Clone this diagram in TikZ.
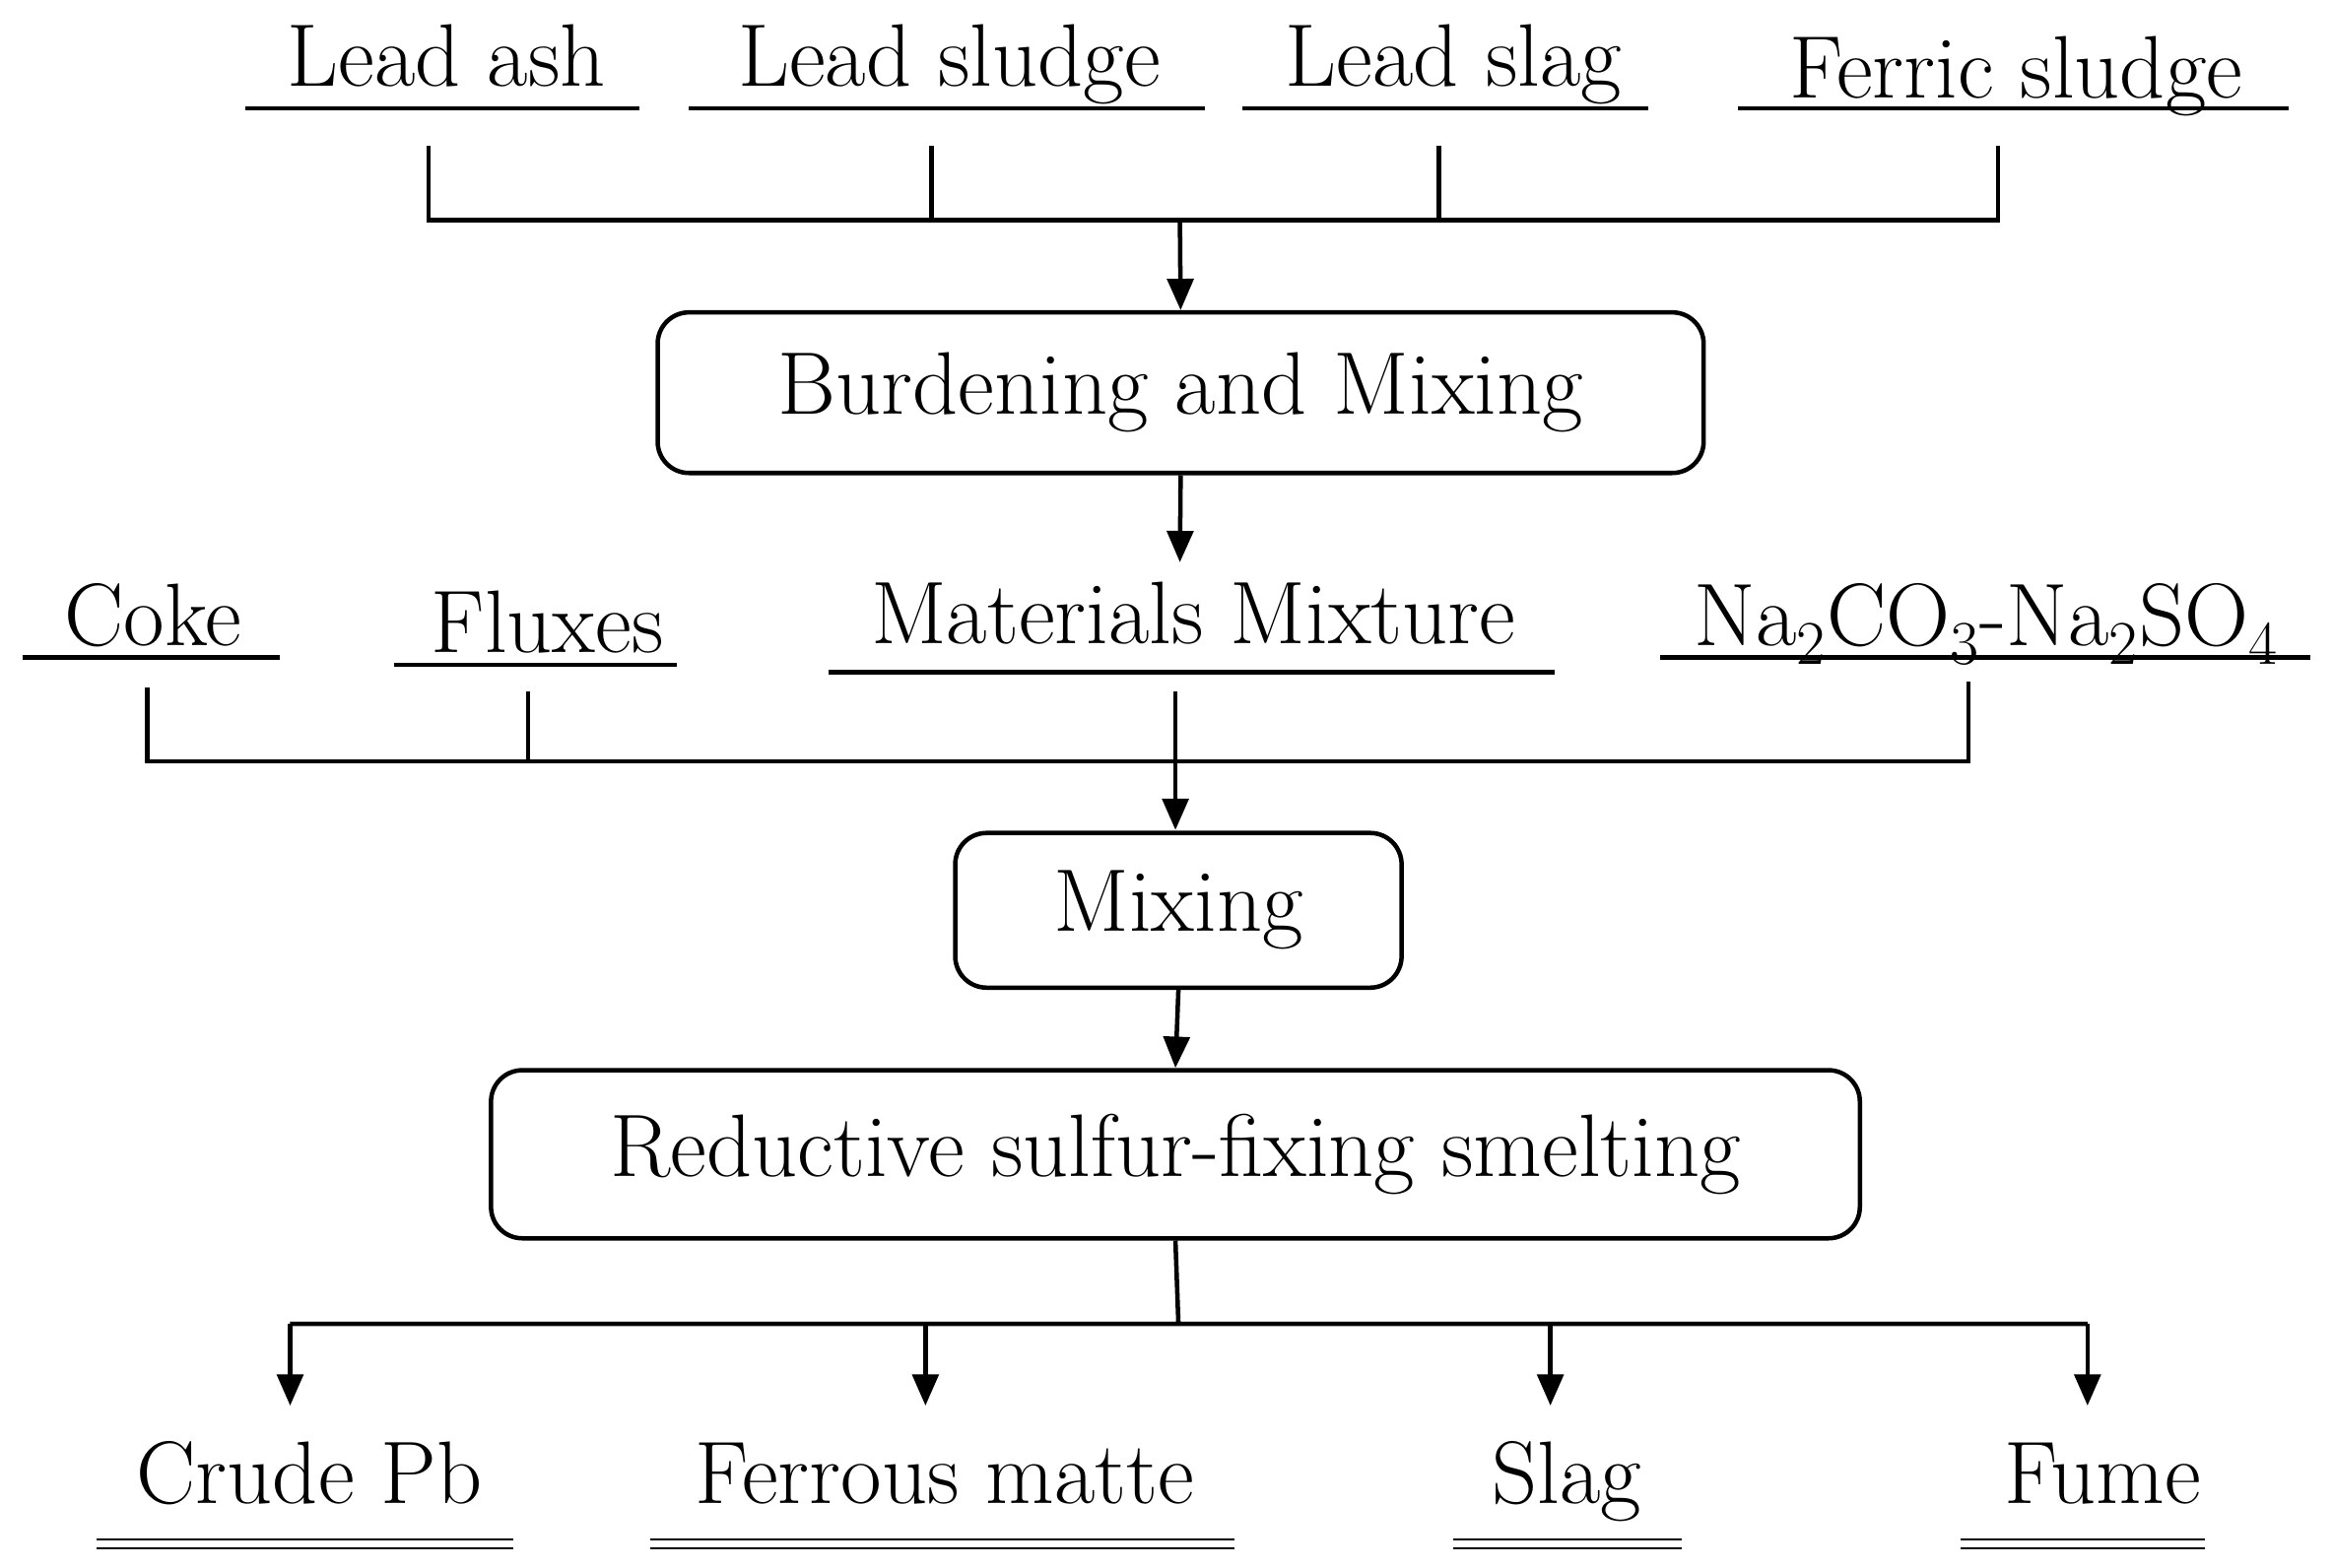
\documentclass[tikz,border=0pt]{standalone}
\usetikzlibrary{arrows.meta}
\begin{document}
\begin{tikzpicture}[x=0.02cm,y=-0.02cm,
  ln/.style={line width=1.7pt},
  ar/.style={ln,-{Triangle[length=12pt,width=10pt]}},
  lbl/.style={font=\fontsize{34}{40}\selectfont,inner sep=0pt,anchor=base},
  box/.style={draw,line width=1.7pt,rounded corners=12pt,font=\fontsize{34}{40}\selectfont}]
\useasboundingbox (0,0) rectangle (1568,1054);
% top row
\node[lbl] (la) at (300,58) {Lead ash};
\node[lbl] (lsu) at (638,58) {Lead sludge};
\node[lbl] (lsl) at (977,58) {Lead slag};
\node[lbl] (fs) at (1355,66) {Ferric sludge};
\draw[ln] (165,73)--(430,73) (463,73)--(810,73) (835,73)--(1108,73) (1168,73)--(1538,73);
\coordinate (t1) at (288,98); \coordinate (t2) at (626,98); \coordinate (t3) at (967,98); \coordinate (t4) at (1343,98);
\draw[ln] (t1)--(288,148)--(1343,148)--(t4) (t2)--(626,148) (t3)--(967,148);
\coordinate (j1) at (793,148);
\node[box,minimum width=703*0.02cm,minimum height=108*0.02cm] (b1) at (793.5,264) {Burdening and Mixing};
\draw[ar] (j1)--(b1.north);
% second row
\node[lbl] (coke) at (103,434) {Coke};
\node[lbl] (flux) at (368,439) {Fluxes};
\node[lbl] (mm) at (802,433) {Materials Mixture};
\node[lbl] (na) at (1335,434) {Na\textsubscript{2}CO\textsubscript{3}-Na\textsubscript{2}SO\textsubscript{4}};
\draw[ln] (15,442)--(188,442) (265,447)--(455,447) (557,452)--(1045,452) (1116,442)--(1553,442);
\coordinate (mmtop) at (793,378);
\draw[ar] (b1.south)--(mmtop);
\draw[ln] (99,462)--(99,512)--(1323,512)--(1323,458) (355,465)--(355,512);
\coordinate (mmb) at (790,465);
\node[box,minimum width=300*0.02cm,minimum height=104*0.02cm] (b2) at (792,612) {Mixing};
\draw[ar] (mmb)--(790,558);
\node[box,minimum width=920*0.02cm,minimum height=113*0.02cm] (b3) at (790,776) {Reductive sulfur-fixing smelting};
\draw[ar] (b2.south)--(b3.north);
\coordinate (j3) at (792,890);
\draw[ln] (b3.south)--(j3) (195,890)--(1403,890);
\node[lbl] (cp) at (208,1011) {Crude Pb};
\node[lbl] (fm) at (635,1011) {Ferrous matte};
\node[lbl] (sl) at (1053,1011) {Slag};
\node[lbl] (fu) at (1413,1011) {Fume};
\foreach \x in {195,622,1042,1403} \draw[ar] (\x,890)--(\x,945);
\foreach \a/\b in {65/345,437/830,977/1130,1318/1482}
  \draw[line width=0.8pt] (\a,1035)--(\b,1035) (\a,1041)--(\b,1041);
\end{tikzpicture}
\end{document}
